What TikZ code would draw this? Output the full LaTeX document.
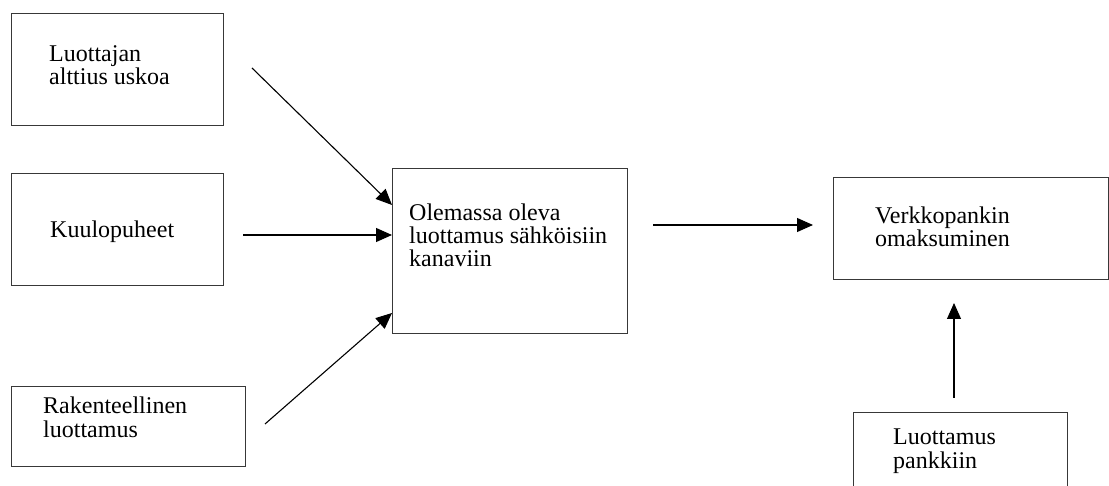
\documentclass[tikz,border=0pt]{standalone}
\usepackage{fontspec}
\setmainfont{Liberation Serif}
\usetikzlibrary{arrows.meta}
\begin{document}
\begin{tikzpicture}[x=1pt,y=-1pt,
  box/.style={draw=black!78, line width=1.3pt, inner sep=0pt, anchor=north west},
  lbl/.style={anchor=base west, align=left, inner sep=0pt, font=\fontsize{24}{23.3}\selectfont},
  arr/.style={-{Triangle[length=16pt,width=14pt]}, line width=1.1pt, black}]
\useasboundingbox (0,0) rectangle (1109,486);
\clip (0,0) rectangle (1109,486);
% boxes
\node[box, minimum width=212pt, minimum height=112pt] (b1) at (11,13) {};
\node[box, minimum width=212pt, minimum height=112pt] (b2) at (11,173) {};
\node[box, minimum width=234pt, minimum height=80pt] (b3) at (11,386) {};
\node[box, minimum width=235pt, minimum height=165pt] (bc) at (392,168) {};
\node[box, minimum width=275pt, minimum height=102pt] (bv) at (833,177) {};
\node[box, minimum width=214pt, minimum height=90pt] (bl) at (853,412) {};
% texts (anchor at baseline of last line)
\node[lbl] (t1) at (49,85) {Luottajan\\alttius uskoa};
\node[lbl] (t2) at (50,238) {Kuulopuheet};
\node[lbl] (t3) at (43,437) {Rakenteellinen\\luottamus};
\node[lbl] (tc) at (409,267) {Olemassa oleva\\luottamus sähköisiin\\kanaviin};
\node[lbl] (tv) at (875,247) {Verkkopankin\\omaksuminen};
\node[lbl] (tl) at (893,468) {Luottamus\\pankkiin};
% connector end points
\coordinate (s1) at (252,68);
\coordinate (s2) at (243,235);
\coordinate (s3) at (265,424);
\coordinate (s4) at (653,225);
\coordinate (e4) at (813,225);
\coordinate (s5) at (954,398);
\coordinate (e5) at (954,303);
\draw[arr] (s1) -- (bc.west |- 0,205);
\draw[arr] (s2) -- (bc.west |- s2);
\draw[arr] (s3) -- (bc.west |- 0,313);
\draw[arr] (s4) -- (e4);
\draw[arr] (s5) -- (e5);
\end{tikzpicture}
\end{document}
